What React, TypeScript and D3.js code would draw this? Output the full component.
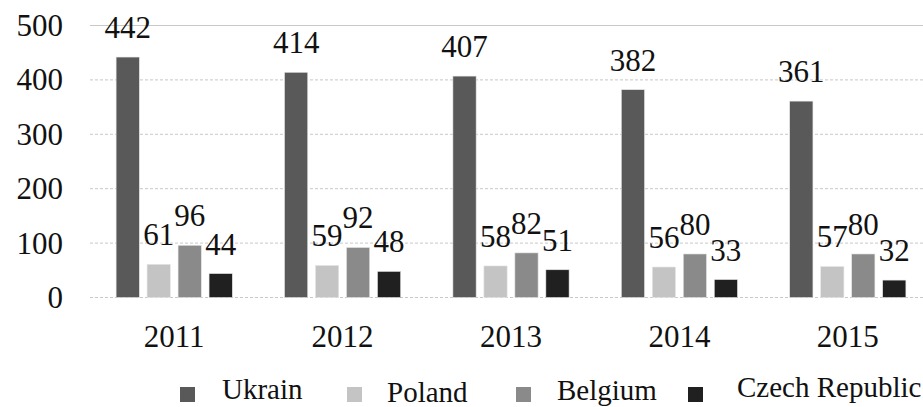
import * as d3 from "d3";

const years = ["2011", "2012", "2013", "2014", "2015"];
const countries = ["Ukrain", "Poland", "Belgium", "Czech Republic"];
const ukraine = [442, 414, 407, 382, 361];
const poland = [61, 59, 58, 56, 57];
const belgium = [96, 92, 82, 80, 80];
const czech = [44, 48, 51, 33, 32];
const yTicks = [0, 100, 200, 300, 400, 500];
const colors = ["#595959", "#c4c4c4", "#8a8a8a", "#202020"];

export default function App() {
  const width = 923;
  const height = 407;

  const series = [ukraine, poland, belgium, czech];

  const x0 = d3.scaleBand().domain(years).range([90, 932]).paddingInner(0.31).paddingOuter(0.155);
  const x1 = d3.scaleBand().domain(countries).range([0, x0.bandwidth()]).paddingInner(0.25);
  const y = d3.scaleLinear().domain([0, 500]).range([297.5, 25.5]);

  // legend layout: swatch x, text x, small vertical shifts as in the picture
  const legendX = [180, 347, 516, 688];
  const legendTextX = [222, 387, 557, 737];
  const legendDy = [0, 3, 1, -2];

  return (
    <svg
      width={width}
      height={height}
      style={{ position: "absolute", left: 0, top: 0, background: "#fff" }}
    >
      <style>{`.t { font-family: "Liberation Serif", "Times New Roman", serif; fill: #111; }`}</style>
      <rect width={width} height={height} fill="#fff" />
      {/* grid */}
      {yTicks.map((t) => (
        <line
          key={t}
          x1={90}
          x2={width}
          y1={y(t)}
          y2={y(t)}
          stroke="#c8c8c8"
          strokeWidth={1}
          strokeDasharray={t === 500 ? undefined : "3,2"}
        />
      ))}
      {yTicks.map((t) => (
        <text
          key={"yl" + t}
          className="t"
          x={63}
          y={y(t)}
          dy="0.34em"
          textAnchor="end"
          fontSize={31}
          fontFamily="Liberation Serif"
        >
          {t}
        </text>
      ))}
      {/* bars */}
      {years.map((yr, i) => (
        <g key={yr} transform={`translate(${x0(yr)},0)`}>
          {countries.map((c, j) => {
            const v = series[j][i];
            const bx = x1(c) as number;
            return (
              <g key={c}>
                <rect
                  x={bx}
                  y={y(v)}
                  width={x1.bandwidth()}
                  height={y(0) - y(v)}
                  fill={colors[j]}
                  stroke="#e6e6e6"
                  strokeWidth={0.6}
                />
                <text
                  className="t"
                  x={bx + x1.bandwidth() / 2}
                  y={y(v) - 19}
                  textAnchor="middle"
                  fontSize={31}
                  fontFamily="Liberation Serif"
                >
                  {v}
                </text>
              </g>
            );
          })}
          <text
            className="t"
            x={x0.bandwidth() / 2}
            y={347}
            textAnchor="middle"
            fontSize={31}
            fontFamily="Liberation Serif"
          >
            {yr}
          </text>
        </g>
      ))}
      {/* legend */}
      {countries.map((c, j) => (
        <g key={"lg" + c}>
          <rect x={legendX[j]} y={387} width={15} height={15} fill={colors[j]} />
          <text
            className="t"
            x={legendTextX[j]}
            y={399 + legendDy[j]}
            fontSize={29}
            fontFamily="Liberation Serif"
          >
            {c}
          </text>
        </g>
      ))}
    </svg>
  );
}
